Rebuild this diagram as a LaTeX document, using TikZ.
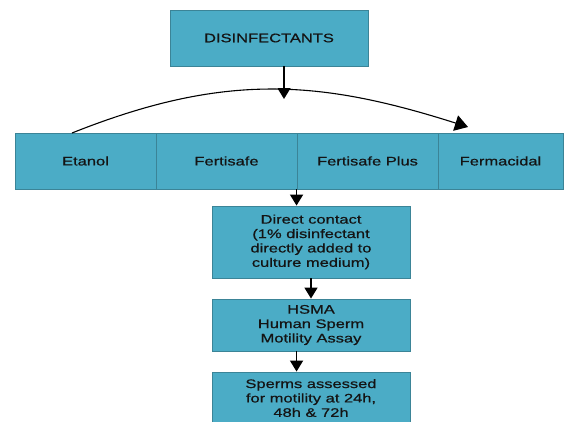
\documentclass[tikz,border=0pt]{standalone}
\usepackage{fontspec}
\setmainfont[FakeStretch=1.33,FakeBold=0.6]{Liberation Sans}
\usetikzlibrary{arrows.meta}
\definecolor{boxfill}{HTML}{4BACC6}
\definecolor{boxline}{HTML}{3B8497}
\definecolor{txt}{HTML}{141414}
\tikzset{
  box/.style={draw=boxline, line width=0.9pt, fill=boxfill, inner sep=0pt, align=center,
    text=txt, font=\fontsize{12.4}{14.4}\selectfont},
  conn/.style={draw=black, line width=1.6pt, -{Triangle[width=13pt,length=11pt]}},
}
\begin{document}
\begin{tikzpicture}[x=1pt,y=-1pt]
\useasboundingbox (0,0) rectangle (564,421);
\fill[white] (0,0) rectangle (564,421);
\node[box, minimum width=198pt, minimum height=56pt] (dis) at (269,38) {DISINFECTANTS};
\node[box, minimum width=141pt, minimum height=56pt] (etanol) at (85.5,161) {Etanol};
\node[box, minimum width=141pt, minimum height=56pt] (fertisafe) at (226.5,161) {Fertisafe};
\node[box, minimum width=141pt, minimum height=56pt] (fplus) at (367.5,161) {Fertisafe Plus};
\node[box, minimum width=125pt, minimum height=56pt] (ferm) at (500.5,161) {Fermacidal};
\node[box, minimum width=198pt, minimum height=72pt] (direct) at (311,242) {Direct contact\\(1\% disinfectant\\directly added to\\culture medium)};
\node[box, minimum width=198pt, minimum height=52pt] (hsma) at (311,325) {HSMA\\Human Sperm\\Motility Assay};
\node[box, minimum width=198pt, minimum height=52pt] (sperms) at (311,398) {Sperms assessed\\for motility at 24h,\\48h \& 72h};
\coordinate (peak) at (284,99);
\coordinate (cstart) at (72,133);
\coordinate (cend) at (468,127);
\draw[conn] (dis.south -| peak) -- (peak);
\draw[line width=1.1pt, -{Triangle[width=16pt,length=13pt]}] (cstart) .. controls (225,72) and (320,80) .. (cend);
\draw[conn] (fplus.south west) -- (fplus.south west |- direct.north);
\draw[conn] (direct.south) -- (hsma.north);
\draw[conn] (hsma.south -| fplus.south west) -- (sperms.north -| fplus.south west);
\end{tikzpicture}
\end{document}
